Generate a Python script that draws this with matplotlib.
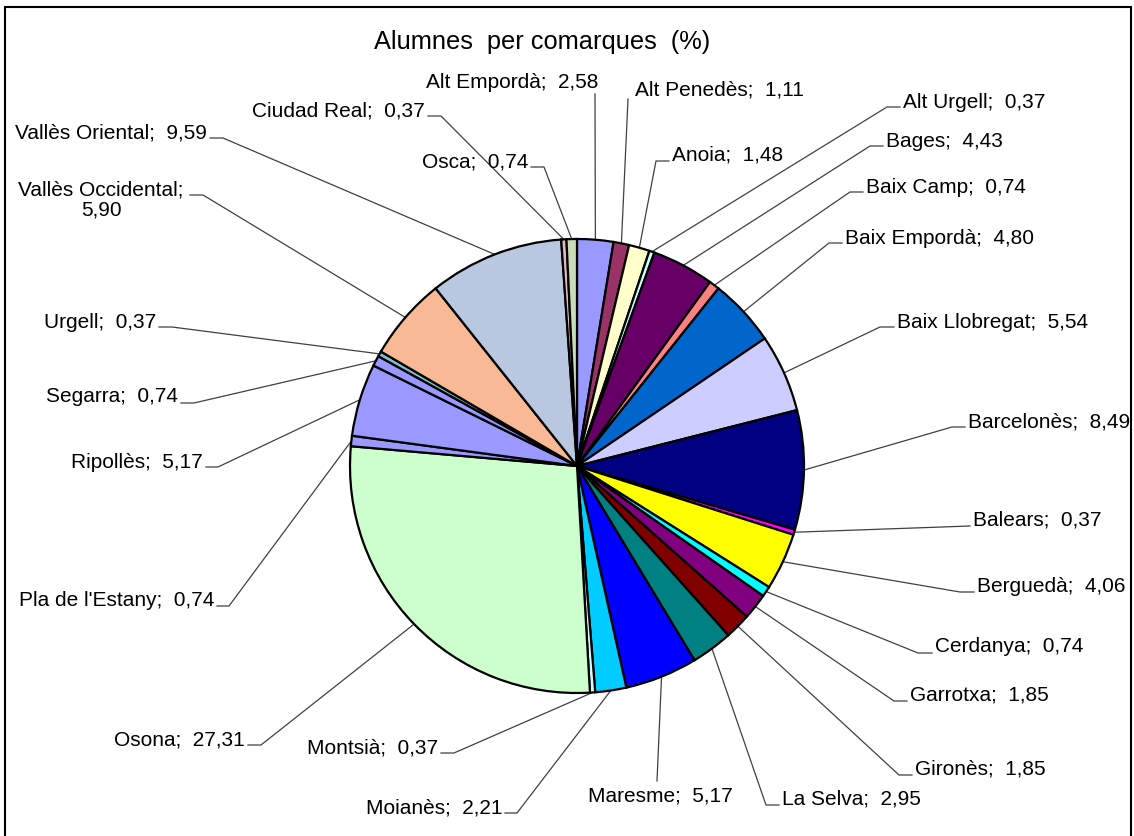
import numpy as np
import matplotlib
matplotlib.use("Agg")
import matplotlib.pyplot as plt
from matplotlib.patches import Rectangle

plt.rcParams['font.family'] = ['Liberation Sans', 'DejaVu Sans']

# ---- data ----
comarques = ["Alt Empordà", "Alt Penedès", "Anoia", "Alt Urgell", "Bages", "Baix Camp",
             "Baix Empordà", "Baix Llobregat", "Barcelonès", "Balears", "Berguedà",
             "Cerdanya", "Garrotxa", "Gironès", "La Selva", "Maresme", "Moianès",
             "Montsià", "Osona", "Pla de l'Estany", "Ripollès", "Segarra", "Urgell",
             "Vallès Occidental", "Vallès Oriental", "Ciudad Real", "Osca"]
percent = [2.58, 1.11, 1.48, 0.37, 4.43, 0.74, 4.80, 5.54, 8.49, 0.37, 4.06,
           0.74, 1.85, 1.85, 2.95, 5.17, 2.21, 0.37, 27.31, 0.74, 5.17, 0.74, 0.37,
           5.90, 9.59, 0.37, 0.74]
value_labels = ["2,58", "1,11", "1,48", "0,37", "4,43", "0,74", "4,80", "5,54", "8,49",
                "0,37", "4,06", "0,74", "1,85", "1,85", "2,95", "5,17", "2,21", "0,37",
                "27,31", "0,74", "5,17", "0,74", "0,37", "5,90", "9,59", "0,37", "0,74"]
title = "Alumnes  per comarques  (%)"

# ---- styles ----
colors = ["#9999FF", "#993366", "#FFFFCC", "#CCFFFF", "#660066", "#FF8080",
          "#0066CC", "#CCCCFF", "#000080", "#FF00FF", "#FFFF00", "#00FFFF",
          "#800080", "#800000", "#008080", "#0000FF", "#00CCFF", "#CCFFFF",
          "#CCFFCC", "#9999FF", "#9999FF", "#9999FF", "#7FC0CC", "#F9B994",
          "#B9C7E0", "#E6B9B8", "#C8DCB8"]

# label layout in pixel coordinates: (x, y, ha, line points from text side)
layout = {
    "Alt Empordà":      (598, 82, 'right', [(595, 95)]),
    "Alt Penedès":      (635, 90, 'left', [(628, 100)]),
    "Anoia":            (672, 155, 'left', [(669, 162), (656, 162)]),
    "Alt Urgell":       (903, 102, 'left', [(900, 108), (887, 108)]),
    "Bages":            (886, 141, 'left', [(883, 147), (870, 147)]),
    "Baix Camp":        (866, 187, 'left', [(863, 193), (850, 193)]),
    "Baix Empordà":     (845, 238, 'left', [(842, 244), (829, 244)]),
    "Baix Llobregat":   (897, 322, 'left', [(894, 328), (880, 328)]),
    "Barcelonès":       (968, 422, 'left', [(965, 428), (952, 428)]),
    "Balears":          (973, 520, 'left', [(970, 527)]),
    "Berguedà":         (977, 586, 'left', [(974, 593), (960, 593)]),
    "Cerdanya":         (935, 647, 'left', [(932, 654), (918, 654)]),
    "Garrotxa":         (910, 695, 'left', [(907, 702), (894, 702)]),
    "Gironès":          (915, 769, 'left', [(912, 776), (899, 776)]),
    "La Selva":         (782, 799, 'left', [(779, 806), (766, 806)]),
    "Maresme":          (588, 796, 'left', [(657, 782)]),
    "Moianès":          (502, 808, 'right', [(505, 814), (517, 814)]),
    "Montsià":          (438, 748, 'right', [(441, 754), (454, 754)]),
    "Osona":            (245, 740, 'right', [(248, 746), (261, 746)]),
    "Pla de l'Estany":  (214, 601, 'right', [(217, 607), (229, 607)]),
    "Ripollès":         (203, 462, 'right', [(206, 468), (218, 468)]),
    "Segarra":          (178, 397, 'right', [(181, 404), (194, 404)]),
    "Urgell":           (156, 322, 'right', [(159, 328), (172, 328)]),
    "Vallès Occidental": (101, 200, 'center', [(190, 196), (203, 196)]),
    "Vallès Oriental":  (207, 133, 'right', [(210, 139), (223, 139)]),
    "Ciudad Real":      (425, 111, 'right', [(428, 117), (441, 117)]),
    "Osca":             (528, 162, 'right', [(531, 168), (544, 168)]),
}

W, H = 1134, 837
fig = plt.figure(figsize=(W / 100, H / 100), dpi=100)
ax = fig.add_axes([0, 0, 1, 1])

cx, cy, r = 577, 467, 227
ax.pie(percent, colors=colors, startangle=270, counterclock=True,
       center=(cx, cy), radius=r,
       wedgeprops=dict(edgecolor='black', linewidth=1.6, joinstyle='miter'))
ax.set_xlim(0, W)
ax.set_ylim(H, 0)
ax.set_aspect('equal')
ax.axis('off')

total = float(np.sum(percent))
cum = np.cumsum([0] + percent[:-1])
for name, val, vlab, c0 in zip(comarques, percent, value_labels, cum):
    theta = np.deg2rad(270 + 360.0 * (c0 + val / 2) / total)
    ex, ey = cx + r * np.cos(theta), cy + r * np.sin(theta)
    x, y, ha, pts = layout[name]
    xs = [p[0] for p in pts] + [ex]
    ys = [p[1] for p in pts] + [ey]
    ax.plot(xs, ys, color='#404040', lw=0.9, zorder=0)
    if name == "Vallès Occidental":
        txt = f"{name};\n{vlab}"
        ax.text(x, y, txt, ha='center', va='center', fontsize=15,
                multialignment='center', linespacing=1.1)
    else:
        ax.text(x, y, f"{name};  {vlab}", ha=ha, va='center', fontsize=15)

ax.text(542, 42, title, ha='center', va='center', fontsize=18.3)

fig.patches.append(Rectangle((5 / W, -0.05), 1126 / W, 1.05 - 8 / H,
                             transform=fig.transFigure, fill=False,
                             edgecolor='black', linewidth=1.5))

fig.savefig("out.png", dpi=100)
